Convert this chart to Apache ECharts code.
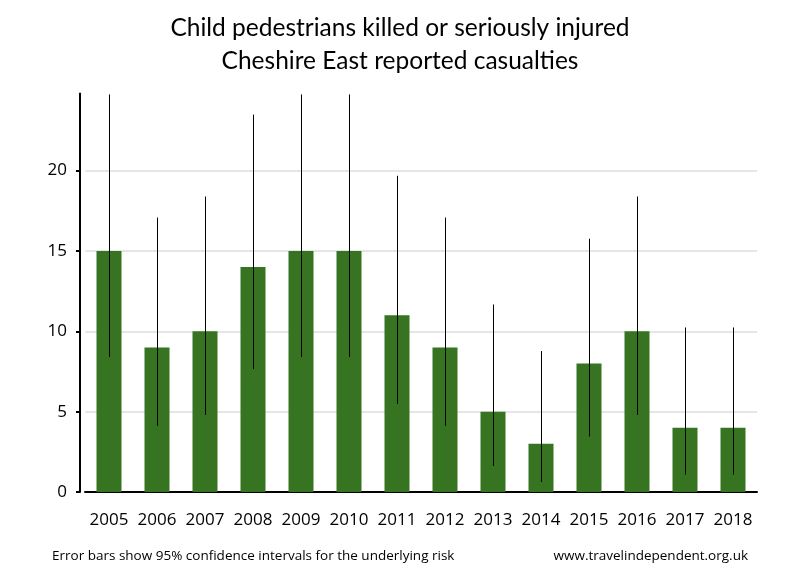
<!DOCTYPE html>
<html><head><meta charset="utf-8">
<script src="https://cdn.jsdelivr.net/npm/echarts@6/dist/echarts.min.js"></script>
<style>html,body{margin:0;padding:0;background:#fff}#c{width:800px;height:580px}</style>
</head><body><div id="c"></div>
<script>
const years = ['2005','2006','2007','2008','2009','2010','2011','2012','2013','2014','2015','2016','2017','2018'];
const casualties = [15, 9, 10, 14, 15, 15, 11, 9, 5, 3, 8, 10, 4, 4];
const ciLower = [8.40, 4.12, 4.80, 7.65, 8.40, 8.40, 5.49, 4.12, 1.62, 0.62, 3.45, 4.80, 1.09, 1.09];
const ciUpper = [24.74, 17.08, 18.39, 23.49, 24.74, 24.74, 19.68, 17.08, 11.67, 8.77, 15.76, 18.39, 10.24, 10.24];
const yTicks = [0, 5, 10, 15, 20];

const chart = echarts.init(document.getElementById('c'));
const errData = years.map((y, i) => [i, ciLower[i], ciUpper[i]]);
chart.setOption({
  animation: false,
  backgroundColor: '#fff',
  title: [{
    text: 'Child pedestrians killed or seriously injured\nCheshire East reported casualties',
    left: 'center', top: 7,
    textStyle: { fontFamily: 'Lato', fontSize: 24.5, fontWeight: 'normal', color: '#000', lineHeight: 33 }
  }, {
    text: 'Error bars show 95% confidence intervals for the underlying risk',
    left: 47, top: 544,
    textStyle: { fontFamily: 'Open Sans', fontSize: 13.5, fontWeight: 'normal', color: '#000' }
  }, {
    text: 'www.travelindependent.org.uk',
    right: 47, top: 544,
    textStyle: { fontFamily: 'Open Sans', fontSize: 13.5, fontWeight: 'normal', color: '#000' }
  }],
  grid: { left: 85, right: 43, top: 93.5, bottom: 88, containLabel: false },
  xAxis: {
    type: 'category', data: years,
    axisLine: { lineStyle: { color: '#000', width: 2 } },
    axisTick: { show: false },
    axisLabel: { color: '#000', fontFamily: 'Open Sans', fontSize: 17, margin: 20, interval: 0, hideOverlap: false }
  },
  yAxis: {
    type: 'value', min: 0, max: 24.8, interval: 5, offset: 5,
    axisLine: { show: true, lineStyle: { color: '#000', width: 2 } },
    axisTick: { show: true, length: 4, lineStyle: { color: '#000', width: 2 } },
    axisLabel: { color: '#000', fontFamily: 'Open Sans', fontSize: 17, margin: 13, showMaxLabel: false,
      formatter: v => yTicks.includes(v) ? String(v) : '' },
    splitLine: { show: true, showMaxLine: false, lineStyle: { color: '#e6e6e6', width: 2 } }
  },
  series: [{
    type: 'bar', data: casualties, barWidth: 25,
    itemStyle: { color: '#367421' }
  }, {
    type: 'custom', data: errData, clip: true, z: 10,
    renderItem: (params, api) => {
      const lo = api.coord([api.value(0), api.value(1)]);
      const hi = api.coord([api.value(0), api.value(2)]);
      const x = Math.round(lo[0]) + 0.5;
      return { type: 'line', shape: { x1: x, y1: lo[1], x2: x, y2: hi[1] },
        style: { stroke: '#000', lineWidth: 1 } };
    }
  }]
});
</script></body></html>
